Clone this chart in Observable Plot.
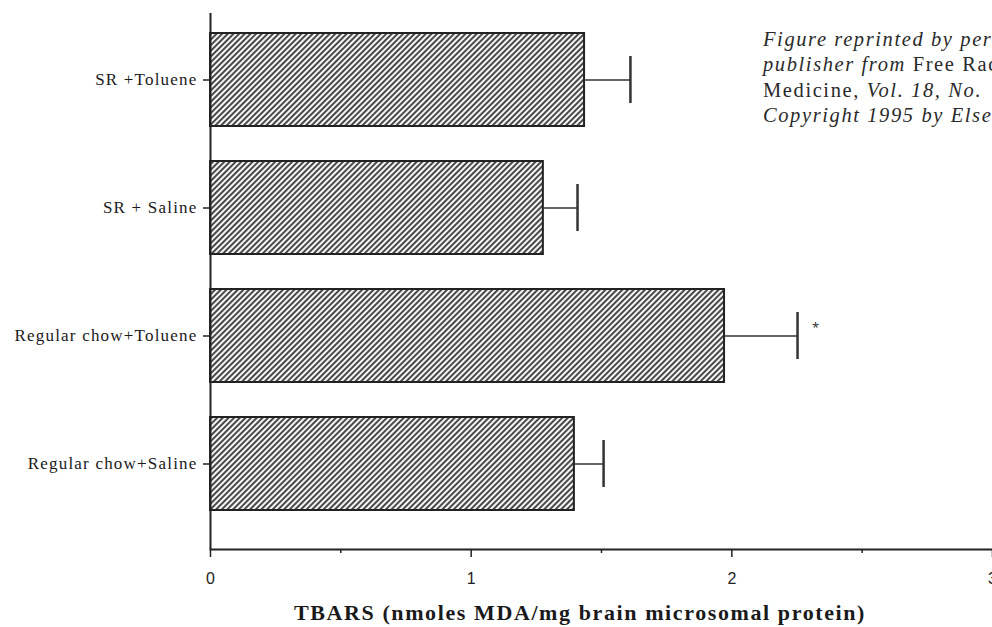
<!DOCTYPE html>
<html>
<head>
<meta charset="utf-8">
<script src="https://cdn.jsdelivr.net/npm/d3@7"></script>
<script src="https://cdn.jsdelivr.net/npm/@observablehq/plot@0.6"></script>
<style>
  html, body { margin: 0; padding: 0; background: #fff; }
  #wrap { position: relative; width: 992px; height: 627px; overflow: hidden; background: #fff; }
  #note { position: absolute; left: 763px; top: 27px; font-family: "Liberation Serif", serif; font-size: 20.5px; letter-spacing: 1.6px; line-height: 25.3px; color: #2a2a2a; white-space: nowrap; }
  #title { position: absolute; left: 0; width: 1160px; top: 600px; text-align: center; font-family: "Liberation Serif", serif; font-weight: bold; font-size: 22px; letter-spacing: 1.6px; color: #1a1a1a; white-space: nowrap; }
</style>
</head>
<body>
<div id="wrap">
  <div id="chart"></div>
  <div id="note">
    <div><i>Figure reprinted by permission of the</i></div>
    <div><i>publisher from</i> Free Radical Biology and</div>
    <div>Medicine, <i>Vol. 18, No.</i></div>
    <div><i>Copyright 1995 by Elsevier Science.</i></div>
  </div>
  <div id="title">TBARS (nmoles MDA/mg brain microsomal protein)</div>
</div>
<script>
const groups = ["SR +Toluene", "SR + Saline", "Regular chow+Toluene", "Regular chow+Saline"];
const means = [1.435, 1.277, 1.972, 1.396];
const errors = [0.176, 0.131, 0.280, 0.112];
const significance = ["", "", "*", ""];
const xTicks = [0, 1, 2, 3];
const xMinorTicks = [0.5, 1.5, 2.5];

const table = groups.map((g, i) => ({
  group: g, mean: means[i], err: errors[i], hi: means[i] + errors[i], sig: significance[i]
}));

const serif = "Liberation Serif, serif";
const sans = "Liberation Sans Narrow, Liberation Sans, Arial, sans-serif";

const chart = Plot.plot({
  width: 992,
  height: 595,
  marginLeft: 210,
  marginRight: 0,
  marginTop: 13,
  marginBottom: 46,
  style: { background: "white", color: "#222", overflow: "visible" },
  x: { domain: [0, 3] },
  y: { domain: groups, paddingInner: 0.27, paddingOuter: 0.2175, align: 0.34 },
  marks: [
    Plot.barX(table, { y: "group", x: "mean", fill: "url(#hatch)", stroke: "#222", strokeWidth: 2 }),
    Plot.ruleY(table, { y: "group", x1: "mean", x2: "hi", stroke: "#333", strokeWidth: 1.5 }),
    Plot.tickX(table, { y: "group", x: "hi", stroke: "#333", strokeWidth: 2.5, insetTop: 23, insetBottom: 23 }),
    Plot.text(table.filter(d => d.sig), { y: "group", x: "hi", text: "sig", dx: 18, dy: -8, fontSize: 13, fill: "#333" }),
    Plot.ruleX([0], { stroke: "#222", strokeWidth: 2 }),
    Plot.frame({ anchor: "bottom", stroke: "#222", strokeWidth: 2 }),
    Plot.axisX({ ticks: xTicks, tickSize: 8, tickPadding: 15, tickFormat: d3.format("d"), label: null, fontFamily: sans, fontSize: 16, stroke: "#222", strokeWidth: 1.5 }),
    Plot.axisX({ ticks: xMinorTicks, tickSize: 4, tickFormat: () => "", label: null, stroke: "#222", strokeWidth: 1.5 }),
    Plot.axisY({ tickSize: 7, tickPadding: 6, label: null, fontFamily: serif, fontSize: 17, stroke: "#222", strokeWidth: 1.5, fill: "#1a1a1a" })
  ]
});

chart.querySelectorAll("g[aria-label='y-axis tick label'] text").forEach(t => t.setAttribute("letter-spacing", "1.2"));

const svgNS = "http://www.w3.org/2000/svg";
const defs = document.createElementNS(svgNS, "defs");
defs.innerHTML = `<pattern id="hatch" patternUnits="userSpaceOnUse" width="4" height="4" patternTransform="rotate(45)">
  <rect width="4" height="4" fill="#f6f6f6"></rect>
  <line x1="1" y1="0" x2="1" y2="4" stroke="#2a2a2a" stroke-width="1.7"></line>
</pattern>`;
chart.insertBefore(defs, chart.firstChild);
document.getElementById("chart").appendChild(chart);
</script>
</body>
</html>
